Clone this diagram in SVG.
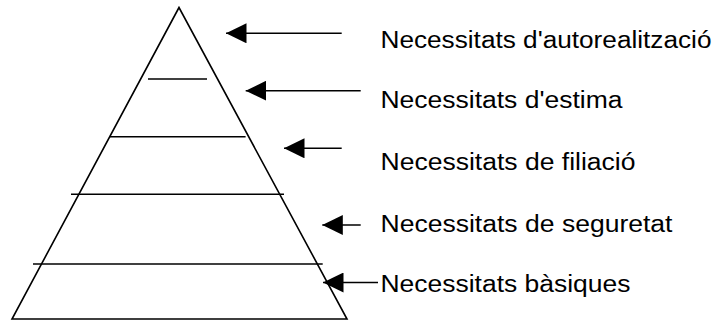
<svg xmlns="http://www.w3.org/2000/svg" width="720" height="320" viewBox="0 0 720 320">
<style>
.shape{fill:none;stroke:#000;stroke-width:1.6}
.conn{stroke:#000;stroke-width:1.6;fill:none}
.lbl{font-family:"Liberation Sans",Arial,Helvetica,sans-serif;font-size:23px;fill:#000}
</style>
<defs>
<marker id="ah" markerUnits="userSpaceOnUse" markerWidth="21" markerHeight="20" viewBox="0 0 21 20" refX="20.5" refY="10" orient="auto">
<path d="M0,0 L20.5,10 L0,20 z" fill="#000"/>
</marker>
</defs>
<rect width="720" height="320" fill="#fff"/>
<g id="pyramid">
<polygon class="shape" points="179,7.5 12,319 347,319"/>
<line class="shape" x1="148" y1="79" x2="207" y2="79"/>
<line class="shape" x1="110" y1="136.7" x2="245.6" y2="136.7"/>
<line class="shape" x1="71" y1="194.3" x2="284" y2="194.3"/>
<line class="shape" x1="33" y1="264" x2="322.7" y2="264"/>
</g>
<g id="connectors">
<line class="conn" x1="341.7" y1="33.3" x2="226" y2="33.3" marker-end="url(#ah)"/>
<line class="conn" x1="360.7" y1="90.7" x2="245.7" y2="90.7" marker-end="url(#ah)"/>
<line class="conn" x1="341.7" y1="148.3" x2="284" y2="148.3" marker-end="url(#ah)"/>
<line class="conn" x1="360.7" y1="225" x2="322.3" y2="225" marker-end="url(#ah)"/>
<line class="conn" x1="378" y1="282.5" x2="323" y2="282.5" marker-end="url(#ah)"/>
</g>
<g id="n1"><text class="lbl" x="380.5" y="48.3" textLength="331" lengthAdjust="spacingAndGlyphs">Necessitats d'autorealització</text></g>
<g id="n2"><text class="lbl" x="380.5" y="108.3" textLength="242" lengthAdjust="spacingAndGlyphs">Necessitats d'estima</text></g>
<g id="n3"><text class="lbl" x="380.5" y="170" textLength="255" lengthAdjust="spacingAndGlyphs">Necessitats de filiació</text></g>
<g id="n4"><text class="lbl" x="380.5" y="232.3" textLength="292" lengthAdjust="spacingAndGlyphs">Necessitats de seguretat</text></g>
<g id="n5"><text class="lbl" x="380.5" y="291.7" textLength="250" lengthAdjust="spacingAndGlyphs">Necessitats bàsiques</text></g>
</svg>
